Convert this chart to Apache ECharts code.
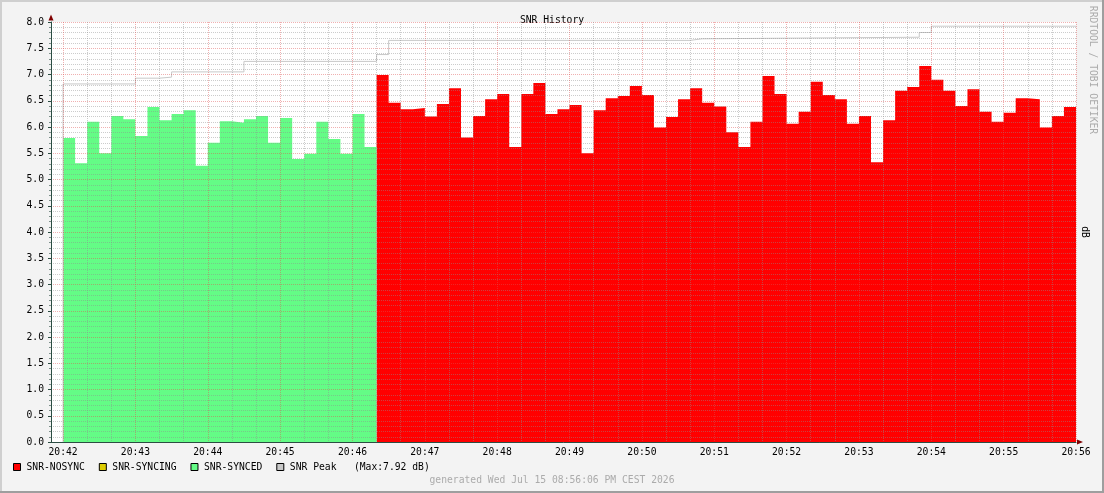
<!DOCTYPE html>
<html>
<head>
<meta charset="utf-8">
<script src="https://cdn.jsdelivr.net/npm/echarts@6/dist/echarts.min.js"></script>
<style>
html,body{margin:0;padding:0;background:#f3f3f3;}
#chart{width:1104px;height:493px;}
</style>
</head>
<body>
<div id="chart"></div>
<script>
// ---- data ----
const stepSeconds = 10;              // one RRD step = 10 s
const axisStartSeconds = -10;        // 20:41:50 relative to 20:42:00
const axisEndSeconds = 840;          // 20:56:00
const minuteLabels = ['20:42','20:43','20:44','20:45','20:46','20:47','20:48','20:49','20:50','20:51','20:52','20:53','20:54','20:55','20:56'];

const syncedStart = 0;     // seconds after 20:42
const syncedValues = [5.79, 5.31, 6.10, 5.50, 6.21, 6.15, 5.83, 6.38, 6.13, 6.25, 6.32, 5.26, 5.70,
  6.11, 6.08, 6.15, 6.21, 5.70, 6.17, 5.39, 5.49, 6.10, 5.77, 5.49, 6.25, 5.62];

const syncingValues = [];

const nosyncStart = 260;
const nosyncValues = [6.99, 6.46, 6.34, 6.36, 6.20, 6.44, 6.74, 5.80, 6.21, 6.53, 6.63, 5.62, 6.63,
  6.84, 6.25, 6.34, 6.42, 5.50, 6.32, 6.55, 6.59, 6.78, 6.61, 5.99, 6.19, 6.53, 6.74, 6.46, 6.39,
  5.90, 5.62, 6.10, 6.97, 6.63, 6.06, 6.29, 6.86, 6.61, 6.53, 6.06, 6.21, 5.33, 6.13, 6.69, 6.76,
  7.16, 6.90, 6.69, 6.40, 6.72, 6.29, 6.10, 6.27, 6.55, 6.53, 5.99, 6.21, 6.38];

const peakTimes  = [0,    0,    60,   80,   90,   150,  260,  270,  520,  530,  710,  720];
const peakValues = [0,    6.82, 6.93, 6.95, 7.05, 7.25, 7.38, 7.65, 7.68, 7.71, 7.80, 7.92];

// ---- build series points ----
function stepPoints(start, values) {
  const pts = values.map((v, i) => [start + i * stepSeconds, v]);
  if (values.length) pts.push([start + values.length * stepSeconds, values[values.length - 1]]);
  return pts;
}
const peakPoints = peakTimes.map((t, i) => [t, peakValues[i]]);
peakPoints.push([axisEndSeconds, peakValues[peakValues.length - 1]]);
const peakMax = Math.max.apply(null, peakValues);

const FONT = 'DejaVu Sans Mono';
const FS = 9.7;
const MGRID = 'rgba(222,80,80,0.45)';
const GRID = 'rgba(143,143,143,0.45)';
const AXIS = '#2C4D43';
const ARROW = '#7F0000';
const RED = '#FF0000', YELLOW = '#DDCC00', GREEN = '#64FC86', PEAK = '#C8C8C8';
const NONE = 'rgba(0,0,0,0)';

const chart = echarts.init(document.getElementById('chart'), null, {renderer: 'canvas'});

const option = {
  backgroundColor: '#f3f3f3',
  animation: false,
  title: {
    text: 'SNR History', left: 'center', top: 10,
    textStyle: {fontFamily: FONT, fontSize: FS, fontWeight: 'normal', color: '#000'}
  },
  grid: {
    left: 51, right: 28, top: 22, bottom: 51,
    show: true, backgroundColor: '#ffffff', borderWidth: 0
  },
  legend: {
    left: 13, top: 462, padding: 0, itemWidth: 7, itemHeight: 7, itemGap: 14,
    selectedMode: false,
    textStyle: {fontFamily: FONT, fontSize: FS, color: '#000', padding: [0, 0, 0, 1]},
    formatter: function (name) {
      return name === 'SNR Peak' ? name + '   (Max:' + peakMax.toFixed(2) + ' dB)' : name;
    },
    data: [
      {name: 'SNR-NOSYNC', icon: 'rect', itemStyle: {color: RED, borderColor: '#000', borderWidth: 1}},
      {name: 'SNR-SYNCING', icon: 'rect', itemStyle: {color: YELLOW, borderColor: '#000', borderWidth: 1}},
      {name: 'SNR-SYNCED', icon: 'rect', itemStyle: {color: GREEN, borderColor: '#000', borderWidth: 1}},
      {name: 'SNR Peak', icon: 'rect', itemStyle: {color: PEAK, borderColor: '#000', borderWidth: 1}}
    ]
  },
  xAxis: {
    type: 'value', min: axisStartSeconds, max: axisEndSeconds, interval: stepSeconds,
    z: 10,
    axisLine: {show: true, onZero: false, lineStyle: {color: AXIS, width: 1}},
    axisTick: {show: false},
    axisLabel: {
      margin: 5, fontFamily: FONT, fontSize: FS, color: '#000',
      showMinLabel: true, showMaxLabel: true,
      formatter: function (v) {
        const r = Math.round(v);
        return (r >= 0 && r % 60 === 0) ? (minuteLabels[r / 60] || '') : '';
      }
    },
    splitLine: {
      show: true,
      lineStyle: {color: [NONE, MGRID, NONE, GRID, NONE, GRID], type: [1, 1], width: 1}
    }
  },
  yAxis: {
    type: 'value', min: 0, max: 8, interval: 0.5,
    z: 10,
    axisLine: {show: true, onZero: false, lineStyle: {color: AXIS, width: 1}},
    axisTick: {show: true, length: 3, lineStyle: {color: AXIS}},
    axisLabel: {
      margin: 7, fontFamily: FONT, fontSize: FS, color: '#000',
      formatter: function (v) { return v.toFixed(1); }
    },
    splitLine: {show: true, lineStyle: {color: MGRID, type: [1, 1], width: 1}},
    minorTick: {show: true, splitNumber: 5, length: 2, lineStyle: {color: 'rgba(44,77,67,0.6)'}},
    minorSplitLine: {show: true, lineStyle: {color: GRID, type: [1, 1], width: 1}}
  },
  series: [
    {
      name: 'SNR-NOSYNC', type: 'line', step: 'end', showSymbol: false, symbol: 'none',
      data: stepPoints(nosyncStart, nosyncValues),
      itemStyle: {color: RED}, lineStyle: {width: 0, color: RED},
      areaStyle: {color: RED, opacity: 1}, z: 2
    },
    {
      name: 'SNR-SYNCING', type: 'line', step: 'end', showSymbol: false, symbol: 'none',
      data: stepPoints(0, syncingValues),
      itemStyle: {color: YELLOW}, lineStyle: {width: 0, color: YELLOW},
      areaStyle: {color: YELLOW, opacity: 1}, z: 2
    },
    {
      name: 'SNR-SYNCED', type: 'line', step: 'end', showSymbol: false, symbol: 'none',
      data: stepPoints(syncedStart, syncedValues),
      itemStyle: {color: GREEN}, lineStyle: {width: 0, color: GREEN},
      areaStyle: {color: GREEN, opacity: 1}, z: 2
    },
    {
      name: 'SNR Peak', type: 'line', step: 'end', showSymbol: false, symbol: 'none',
      data: peakPoints,
      itemStyle: {color: PEAK}, lineStyle: {width: 1, color: PEAK}, z: 3
    }
  ],
  graphic: [
    // frame shading
    {type: 'rect', shape: {x: 0, y: 0, width: 1104, height: 2}, style: {fill: '#CFCFCF'}, silent: true},
    {type: 'rect', shape: {x: 0, y: 0, width: 2, height: 493}, style: {fill: '#CFCFCF'}, silent: true},
    {type: 'rect', shape: {x: 1102, y: 0, width: 2, height: 493}, style: {fill: '#9E9E9E'}, silent: true},
    {type: 'rect', shape: {x: 0, y: 491, width: 1104, height: 2}, style: {fill: '#9E9E9E'}, silent: true},
    // axis arrows
    {type: 'polygon', shape: {points: [[48.5, 20.5], [53.5, 20.5], [51, 14.5]]}, style: {fill: ARROW}, z: 20, silent: true},
    {type: 'polygon', shape: {points: [[1077, 439.5], [1077, 444.5], [1083, 442]]}, style: {fill: ARROW}, z: 20, silent: true},
    // watermark and unit
    {type: 'text', x: 1093, y: 70, rotation: -Math.PI / 2, silent: true,
     style: {text: 'RRDTOOL / TOBI OETIKER', fill: '#ABABAB', font: FS + 'px "' + FONT + '"', align: 'center', verticalAlign: 'middle'}},
    {type: 'text', x: 1085, y: 232, rotation: -Math.PI / 2, silent: true,
     style: {text: 'dB', fill: '#000', font: FS + 'px "' + FONT + '"', align: 'center', verticalAlign: 'middle'}},
    {type: 'text', x: 552, y: 480, silent: true,
     style: {text: 'generated Wed Jul 15 08:56:06 PM CEST 2026', fill: '#ABABAB', font: FS + 'px "' + FONT + '"', align: 'center', verticalAlign: 'middle'}}
  ]
};
chart.setOption(option);
</script>
</body>
</html>
